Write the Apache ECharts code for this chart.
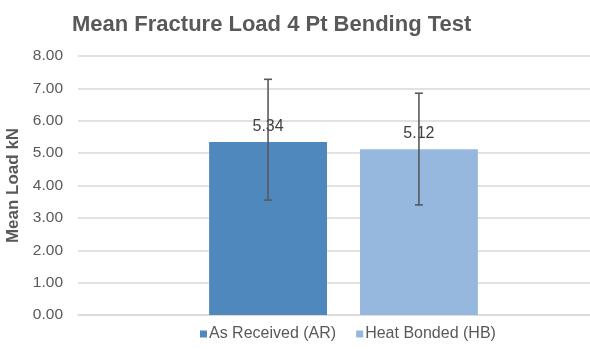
<!DOCTYPE html>
<html>
<head>
<meta charset="utf-8">
<script src="https://cdn.jsdelivr.net/npm/echarts@6/dist/echarts.min.js"></script>
<style>
  html, body { margin: 0; padding: 0; background: #fff; }
  #chart { width: 590px; height: 349px; }
</style>
</head>
<body>
<div id="chart"></div>
<script>
// Mean fracture load per treatment group, with error bar bounds (kN)
const seriesNames = ['As Received (AR)', 'Heat Bonded (HB)'];
const meanLoad = [5.34, 5.12];
const errLow = [3.55, 3.40];
const errHigh = [7.28, 6.85];
const categories = [''];
const yTicks = { min: 0, max: 8, interval: 1 };
const barColors = ['#4f88bd', '#97b8de'];

const FONT = '"Liberation Sans", Arial, sans-serif';
const BAR_WIDTH_FRAC = 0.222;   // bar width as share of the category band
const BAR_GAP_FRAC = 0.28;      // gap between the two bars, relative to bar width

const chart = echarts.init(document.getElementById('chart'), null, { renderer: 'canvas' });

const barSeries = seriesNames.map((name, i) => ({
  name: name,
  type: 'bar',
  data: [meanLoad[i]],
  barWidth: (BAR_WIDTH_FRAC * 100) + '%',
  barGap: (BAR_GAP_FRAC * 100) + '%',
  itemStyle: { color: barColors[i] },
  label: {
    show: true,
    position: 'top',
    distance: 8,
    formatter: p => p.value.toFixed(2),
    color: '#404040',
    fontSize: 16,
    fontFamily: FONT
  },
  z: 2
}));

// Error bars drawn over each bar, offset to the bar's centre within the category
const errorData = seriesNames.map((_, i) => [0, errLow[i], errHigh[i], i]);
const errorSeries = {
  type: 'custom',
  name: 'error',
  data: errorData,
  z: 10,
  silent: true,
  renderItem: function (params, api) {
    const k = api.value(3);
    const n = seriesNames.length;
    const band = api.size([1, 0])[0];
    const bw = band * BAR_WIDTH_FRAC;
    const step = bw * (1 + BAR_GAP_FRAC);
    const offset = (k - (n - 1) / 2) * step;
    const lo = api.coord([api.value(0), api.value(1)]);
    const hi = api.coord([api.value(0), api.value(2)]);
    const x = lo[0] + offset;
    const cap = 4;
    const style = { stroke: '#595959', lineWidth: 1.6 };
    return {
      type: 'group',
      children: [
        { type: 'line', shape: { x1: x, y1: lo[1], x2: x, y2: hi[1] }, style },
        { type: 'line', shape: { x1: x - cap, y1: lo[1], x2: x + cap, y2: lo[1] }, style },
        { type: 'line', shape: { x1: x - cap, y1: hi[1], x2: x + cap, y2: hi[1] }, style }
      ]
    };
  }
};

chart.setOption({
  animation: false,
  backgroundColor: '#ffffff',
  title: {
    text: 'Mean Fracture Load 4 Pt Bending Test',
    left: 67,
    top: 9,
    textStyle: { fontSize: 22, fontWeight: 'bold', color: '#595959', fontFamily: FONT }
  },
  legend: {
    data: seriesNames,
    left: 195,
    bottom: 2,
    itemWidth: 7,
    itemHeight: 7,
    itemGap: 20,
    icon: 'rect',
    textStyle: { fontSize: 16, color: '#595959', fontFamily: FONT, padding: [0, 0, 0, -3] }
  },
  grid: {
    left: 78, top: 56, right: -19, bottom: 34,
    containLabel: false,
    outerBoundsMode: 'none'
  },
  xAxis: {
    type: 'category',
    data: categories,
    axisLine: { show: true, lineStyle: { color: '#d9d9d9', width: 1.5 } },
    axisTick: { show: false },
    axisLabel: { show: false }
  },
  yAxis: {
    type: 'value',
    min: yTicks.min,
    max: yTicks.max,
    interval: yTicks.interval,
    name: 'Mean Load kN',
    nameLocation: 'middle',
    nameGap: 47,
    nameTextStyle: { fontSize: 17, fontWeight: 'bold', color: '#595959', fontFamily: FONT },
    axisLine: { show: false },
    axisTick: { show: false },
    axisLabel: {
      formatter: v => v.toFixed(2),
      fontSize: 15.5,
      color: '#595959',
      fontFamily: FONT,
      margin: 15
    },
    splitLine: { lineStyle: { color: '#d9d9d9', width: 1.5 } }
  },
  series: [...barSeries, errorSeries]
});
</script>
</body>
</html>
